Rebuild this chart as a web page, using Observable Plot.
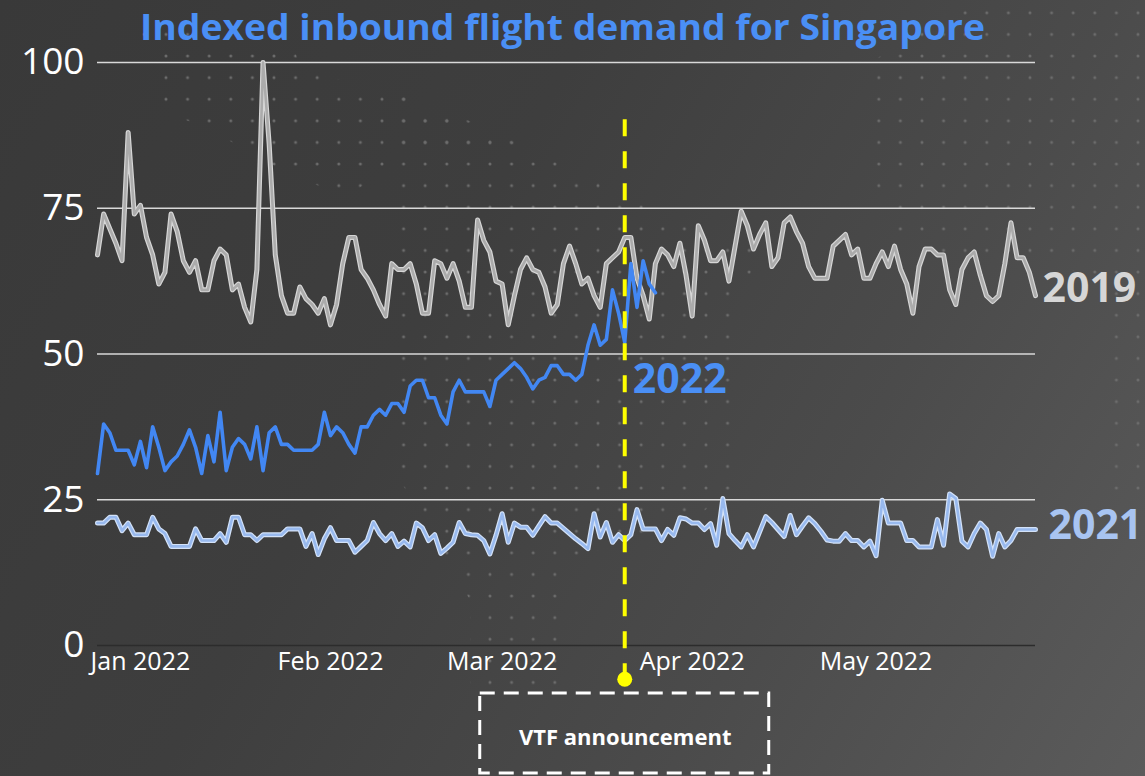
<!DOCTYPE html>
<html>
<head>
<meta charset="utf-8">
<script src="https://cdn.jsdelivr.net/npm/d3@7"></script>
<script src="https://cdn.jsdelivr.net/npm/@observablehq/plot@0.6"></script>
<style>
  html, body { margin: 0; padding: 0; }
  body { width: 1145px; height: 776px; overflow: hidden; font-family: "Open Sans", sans-serif; }
  #wrap { position: relative; width: 1145px; height: 776px;
          background: linear-gradient(120deg, #393939 0%, #3e3e3e 38%, #4b4b4b 70%, #5b5b5b 100%); }
  #bg { position: absolute; left: 0; top: 0; }
  #chart { position: absolute; left: 0; top: 0; }
</style>
</head>
<body>
<div id="wrap">
  <svg id="bg" width="1145" height="776">
    <defs>
      <pattern id="dots" x="4" y="2" width="21.6" height="21.6" patternUnits="userSpaceOnUse">
        <circle cx="10.8" cy="10.8" r="1.5" fill="#6c6c6c"></circle>
      </pattern>
    </defs>
    <polygon points="965,4 1145,4 1145,500 1112,500 1112,285 1050,262 940,258 895,230 875,190 875,60 920,28" fill="url(#dots)"></polygon>
    <polygon points="128,30 290,30 300,70 420,100 530,150 400,158 350,195 300,180 210,130 150,105 150,50" fill="url(#dots)"></polygon>
    <polygon points="400,95 520,140 700,230 755,250 740,330 735,490 690,520 570,560 565,690 470,690 470,600 400,480 385,300" fill="url(#dots)"></polygon>
  </svg>
  <div id="chart"></div>
</div>
<script>
// ---- data (daily) ----
const startDate = "2021-12-25";
const titleText = "Indexed inbound flight demand for Singapore";

const values2019 = [
  67, 74, 71.5, 69, 66, 88, 74, 75.5, 70, 67,
  62, 64, 74, 71, 66, 64, 66, 61, 61, 66,
  68, 67, 61, 62, 58, 55.5, 64.5, 100, 86, 67,
  60, 57, 57, 61.5, 59.5, 58.5, 57, 59.5, 55, 58.5,
  65.5, 70, 70, 64.5, 63, 61, 58.5, 56.5, 65.5, 64.5,
  64.5, 65.5, 62, 57, 57, 66, 65.5, 63, 65.5, 62.5,
  58, 58, 73, 69.5, 67.5, 62.5, 62, 55, 60, 64.5,
  66.5, 64.5, 64, 61.5, 57, 58.5, 65.5, 68.5, 65.5, 62,
  63, 60, 58, 65.5, 66.5, 67.5, 70, 70, 63, 60,
  56, 65.5, 68, 67, 65, 69, 63.5, 56.5, 72, 69.5,
  66, 66, 67.5, 62.5, 68.5, 74.5, 72, 68, 70.5, 72.5,
  65, 66.5, 72.5, 73.5, 71, 69, 65, 63, 63, 63,
  68.5, 69.5, 70.5, 67, 68, 63, 63, 65.5, 67.5, 65,
  68.5, 64.5, 62, 57, 65, 68, 68, 67, 67, 61,
  58.5, 64.5, 66.5, 67.5, 63.5, 60, 59, 60, 65.5, 72.5,
  66.5, 66.5, 64, 60
];

const values2021 = [
  21, 21, 22, 22, 19.7, 21, 19, 19, 19, 22,
  20, 19.2, 17, 17, 17, 17, 20, 18, 18, 18,
  19.2, 17.7, 22, 22, 19, 19, 18, 19, 19, 19,
  19, 20, 20, 20, 17, 19.2, 15.6, 18.3, 20.2, 18,
  18, 18, 16, 17, 18, 21.1, 19.2, 18, 19.2, 17,
  17.9, 16.9, 21, 20.2, 18, 19, 15.8, 16.7, 17.7, 21.1,
  19.2, 19, 18.9, 18, 15.7, 18.9, 22.6, 17.7, 21, 20.3,
  20.3, 18.9, 20.5, 22.1, 21, 21, 20.1, 19.2, 18.3, 17.5,
  16.6, 22.6, 18.6, 21.1, 17.7, 19, 18, 19, 23.3, 20,
  20, 20, 18, 19.9, 18.9, 21.9, 21.7, 21, 21, 19.9,
  20.9, 17.2, 25.2, 19.2, 18, 16.9, 19, 16.9, 19.5, 22.1,
  21.1, 19.9, 18.7, 22.3, 19, 20.5, 21.9, 20.9, 19.6, 18.1,
  17.9, 17.9, 19.2, 18, 18, 16.9, 17.9, 15.4, 24.9, 21,
  21, 21, 18, 18, 16.9, 16.9, 16.9, 21.6, 17.2, 26,
  25.2, 17.9, 16.9, 19.2, 21, 19.9, 15.3, 19.2, 16.9, 18,
  19.9, 19.9, 19.9, 19.9
];

const values2022 = [
  29.5, 38, 36.5, 33.5, 33.5, 33.5, 31, 35, 30.5, 37.5,
  34, 30, 31.5, 32.5, 34.5, 37, 34, 29.5, 36, 31.5,
  40, 30, 34, 35.5, 34.5, 32, 37.5, 30, 36.5, 37.5,
  34.5, 34.5, 33.5, 33.5, 33.5, 33.5, 34.5, 40, 36, 37.5,
  36.5, 34.5, 33, 37.5, 37.5, 39.5, 40.5, 39.5, 41.5, 41.5,
  40, 44.5, 45.5, 45.5, 42.5, 42.5, 39.5, 38, 43.5, 45.5,
  43.5, 43.5, 43.5, 43.5, 41, 45.5, 46.5, 47.5, 48.5, 47.5,
  46, 44, 45.5, 46, 48, 48, 46.5, 46.5, 45.5, 46.5,
  51.5, 55, 51.5, 52.5, 61, 57, 52, 65.5, 58, 66,
  62, 60.5
];

const yTicks = [0, 25, 50, 75, 100];
const monthTicks = ["2022-01-01", "2022-02-01", "2022-03-01", "2022-04-01", "2022-05-01"];
const vtfDate = "2022-03-21";
const vtfText = "VTF announcement";
const seriesNames = ["2019", "2021", "2022"];
const seriesColors = ["#d6d6d6", "#a8c4f1", "#4a8ff5"];
const labelValues = [61.2, 20.5, 45.6];

// ---- build table ----
const start = new Date(startDate + "T00:00:00Z");
const dates = values2019.map((_, i) => d3.utcDay.offset(start, i));
const toRows = (vals, name) => vals.map((v, i) => ({date: dates[i], value: v, series: name}));
const r2019 = toRows(values2019, seriesNames[0]);
const r2021 = toRows(values2021, seriesNames[1]);
const r2022 = toRows(values2022, seriesNames[2]);
const monthDates = monthTicks.map(s => new Date(s + "T00:00:00Z"));
const vtf = new Date(vtfDate + "T00:00:00Z");
const lastDate = dates[dates.length - 1];

const labelMark = (i, date, dx) =>
  Plot.text([{text: seriesNames[i], date, value: labelValues[i]}], {
    x: "date", y: "value", text: "text", dx, fill: seriesColors[i],
    textAnchor: "start", fontSize: 41, fontWeight: "bold"
  });

const chart = Plot.plot({
  width: 1145, height: 776,
  marginLeft: 97, marginRight: 110, marginTop: 62, marginBottom: 131,
  style: {background: "transparent", fontFamily: "'Open Sans', sans-serif", color: "white", overflow: "visible"},
  x: {type: "utc", domain: [dates[0], lastDate]},
  y: {domain: [0, 100]},
  marks: [
    Plot.ruleY(yTicks.filter(t => t > 0), {stroke: "#d9d9d9", strokeWidth: 1.6}),
    Plot.ruleY([0], {stroke: "#2c2c2c", strokeWidth: 1.6}),
    Plot.axisY({ticks: yTicks, tickSize: 0, tickPadding: 13, fontSize: 37, color: "white", label: null}),
    Plot.axisX({ticks: monthDates, tickFormat: d3.utcFormat("%b %Y"), tickSize: 0, tickPadding: 7, fontSize: 25, color: "white", label: null}),
    Plot.line(r2019, {x: "date", y: "value", stroke: "#d6d6d6", strokeWidth: 5}),
    Plot.line(r2019, {x: "date", y: "value", stroke: "#ababab", strokeWidth: 2.6}),
    Plot.line(r2021, {x: "date", y: "value", stroke: "#d3e2f8", strokeWidth: 5}),
    Plot.line(r2021, {x: "date", y: "value", stroke: "#98b9ee", strokeWidth: 2.6}),
    Plot.line(r2022, {x: "date", y: "value", stroke: "#4287f3", strokeWidth: 3.6}),
    Plot.ruleX([vtf], {y1: 90.2, y2: -5.8, stroke: "#ffff00", strokeWidth: 4, strokeDasharray: "17,15"}),
    Plot.dot([vtf], {x: d => d, y: -5.8, r: 7.5, fill: "#ffff00", stroke: "none"}),
    labelMark(0, lastDate, 7),
    labelMark(1, lastDate, 13),
    labelMark(2, dates[87], 2)
  ]
});
document.getElementById("chart").appendChild(chart);

const svg = d3.select(chart);
const xs = chart.scale("x");

// title
svg.append("text")
  .attr("x", 140).attr("y", 40)
  .attr("text-anchor", "start")
  .attr("font-size", 35).attr("font-weight", 700)
  .attr("fill", "#4a8ff5")
  .attr("textLength", 845).attr("lengthAdjust", "spacingAndGlyphs")
  .text(titleText);

// VTF annotation box
const cx = xs.apply(vtf);
svg.append("rect")
  .attr("x", cx - 144.5).attr("y", 693).attr("width", 289).attr("height", 80)
  .attr("fill", "none").attr("stroke", "white").attr("stroke-width", 3)
  .attr("stroke-dasharray", "15,9");
svg.append("text")
  .attr("x", cx + 1).attr("y", 745)
  .attr("text-anchor", "middle")
  .attr("font-size", 22).attr("font-weight", 700).attr("fill", "white")
  .text(vtfText);
</script>
</body>
</html>
